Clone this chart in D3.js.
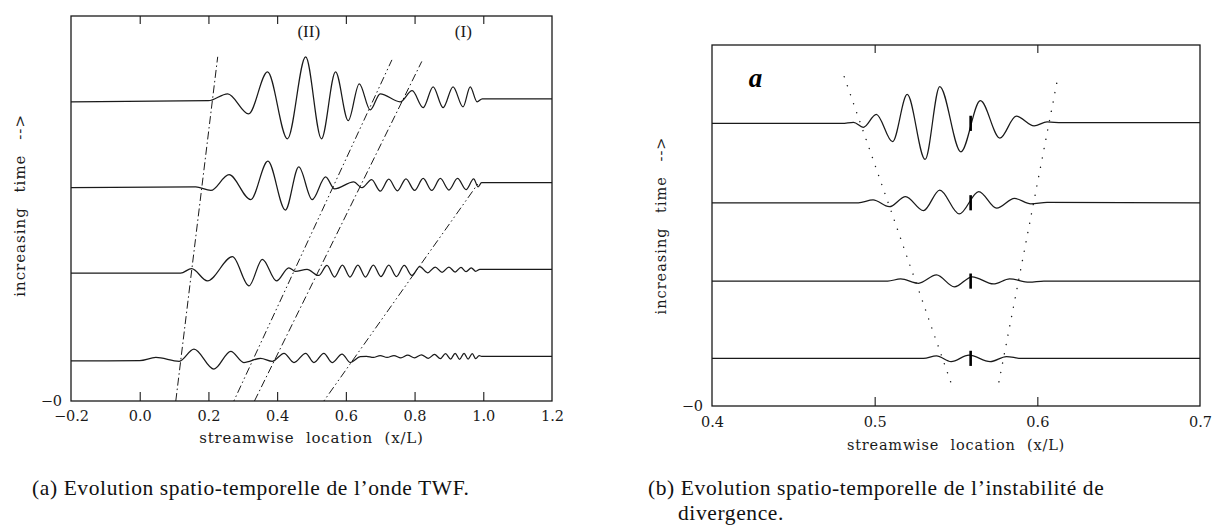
<!DOCTYPE html>
<html><head><meta charset="utf-8">
<script src="https://cdn.jsdelivr.net/npm/d3@7"></script>
<style>
html,body{margin:0;padding:0;background:#fff;}
svg{display:block;}
</style></head>
<body><svg id="chart" width="1215" height="532"></svg>
<script>
// ---------- Panel (a): wave packets, x = streamwise location, y = time (0 bottom .. 1 top)
const xTicksA = [-0.2, 0.0, 0.2, 0.4, 0.6, 0.8, 1.0, 1.2];
const traceA1 = [[-0.2,0.777],[0.20,0.780],[0.256,0.798],[0.317,0.746],[0.372,0.855],[0.430,0.681],[0.483,0.894],[0.529,0.681],[0.570,0.855],[0.607,0.728],[0.639,0.824],[0.671,0.756],[0.700,0.798],[0.758,0.777],[0.793,0.806],[0.825,0.762],[0.854,0.816],[0.883,0.762],[0.912,0.816],[0.941,0.764],[0.962,0.816],[0.982,0.777],[0.997,0.785],[1.2,0.785]];
const traceA2 = [[-0.2,0.554],[0.163,0.556],[0.207,0.547],[0.260,0.588],[0.323,0.523],[0.373,0.623],[0.424,0.496],[0.463,0.608],[0.502,0.523],[0.541,0.582],[0.567,0.551],[0.623,0.569],[0.647,0.554],[0.675,0.575],[0.700,0.545],[0.725,0.576],[0.750,0.546],[0.775,0.577],[0.800,0.547],[0.825,0.578],[0.850,0.547],[0.875,0.578],[0.900,0.548],[0.925,0.578],[0.950,0.549],[0.972,0.577],[0.985,0.556],[0.995,0.567],[1.2,0.567]];
const traceA3 = [[-0.2,0.332],[0.119,0.332],[0.151,0.344],[0.197,0.312],[0.270,0.375],[0.318,0.299],[0.357,0.368],[0.398,0.312],[0.434,0.346],[0.453,0.337],[0.487,0.342],[0.521,0.326],[0.545,0.352],[0.567,0.322],[0.590,0.353],[0.612,0.322],[0.635,0.353],[0.657,0.322],[0.680,0.353],[0.702,0.323],[0.725,0.353],[0.747,0.323],[0.770,0.352],[0.792,0.326],[0.815,0.349],[0.838,0.333],[0.860,0.348],[0.880,0.334],[0.900,0.348],[0.918,0.335],[0.935,0.347],[0.950,0.336],[0.965,0.346],[0.978,0.337],[0.990,0.342],[1.2,0.342]];
const traceA4 = [[-0.2,0.104],[0.0,0.105],[0.047,0.113],[0.115,0.103],[0.158,0.135],[0.216,0.083],[0.265,0.129],[0.303,0.100],[0.352,0.111],[0.386,0.103],[0.420,0.124],[0.449,0.100],[0.483,0.124],[0.507,0.100],[0.536,0.124],[0.560,0.100],[0.589,0.122],[0.613,0.100],[0.642,0.115],[0.660,0.116],[0.680,0.113],[0.700,0.118],[0.720,0.113],[0.740,0.118],[0.760,0.112],[0.780,0.119],[0.800,0.112],[0.820,0.120],[0.840,0.111],[0.858,0.121],[0.875,0.110],[0.890,0.123],[0.905,0.109],[0.918,0.124],[0.931,0.108],[0.944,0.124],[0.956,0.109],[0.968,0.123],[0.978,0.110],[0.988,0.118],[0.995,0.116],[1.2,0.116]];
const tracesA = [traceA1, traceA2, traceA3, traceA4];
// guide rays (x at bottom, y at bottom, x at top, y at top)
const raysA = [[0.105,0.0,0.227,0.894],[0.274,0.0,0.734,0.886],[0.334,0.0,0.821,0.882],[0.536,0.0,0.985,0.565]];
const modeLabelsA = [["(II)",0.492,0.945],["(I)",0.942,0.945]];

// ---------- Panel (b)
const xTicksB = [0.4, 0.5, 0.6, 0.7];
const traceB1 = [[0.4,0.783],[0.480,0.783],[0.487,0.786],[0.493,0.772],[0.501,0.808],[0.511,0.732],[0.520,0.863],[0.531,0.683],[0.540,0.885],[0.553,0.704],[0.565,0.846],[0.577,0.742],[0.587,0.803],[0.598,0.776],[0.606,0.787],[0.615,0.785],[0.7,0.785]];
const traceB2 = [[0.4,0.563],[0.490,0.563],[0.499,0.571],[0.509,0.552],[0.519,0.580],[0.530,0.541],[0.540,0.598],[0.552,0.532],[0.564,0.594],[0.575,0.548],[0.586,0.575],[0.596,0.560],[0.606,0.564],[0.7,0.563]];
const traceB3 = [[0.4,0.346],[0.508,0.346],[0.516,0.352],[0.527,0.340],[0.538,0.363],[0.549,0.330],[0.560,0.358],[0.573,0.338],[0.583,0.352],[0.595,0.343],[0.604,0.346],[0.7,0.346]];
const traceB4 = [[0.4,0.132],[0.530,0.132],[0.538,0.139],[0.547,0.123],[0.558,0.141],[0.571,0.123],[0.581,0.137],[0.590,0.132],[0.7,0.132]];
const tracesB = [traceB1, traceB2, traceB3, traceB4];
const markerX = 0.559;
const markerTimes = [0.783, 0.563, 0.346, 0.132];
const markerHalf = 0.021;
const raysB = [[0.5467,0.067,0.4795,0.935],[0.5764,0.067,0.6127,0.912]];

const svg = d3.select("#chart");
svg.append("rect").attr("width",1215).attr("height",532).attr("fill","#fff");

const ink = "#1a1a1a";
const tickFont = "DejaVu Serif, serif";

function panel(opts){
  const {x, y, ticks, fmt, topTicks, bottomTicks, pad} = opts;
  const g = svg.append("g");
  const [x0,x1] = x.range(), [y0,y1] = y.range();
  const ax = d3.axisBottom(x).tickValues(ticks).tickFormat(fmt).tickSizeInner(-9).tickSizeOuter(0).tickPadding(pad);
  const gb = g.append("g").attr("transform",`translate(0,${y0})`).call(ax);
  gb.selectAll(".tick line").filter(d=>!bottomTicks.includes(d)).remove();
  gb.select(".domain").remove();
  gb.selectAll(".tick line").attr("stroke",ink).attr("stroke-width",1.1);
  gb.selectAll("text").attr("font-family",tickFont).attr("font-size",14.5).attr("fill",ink);
  const at = d3.axisTop(x).tickValues(topTicks).tickFormat("").tickSizeInner(-8).tickSizeOuter(0);
  const gt = g.append("g").attr("transform",`translate(0,${y1})`).call(at);
  gt.select(".domain").remove();
  gt.selectAll(".tick line").attr("stroke",ink).attr("stroke-width",1.1);
  g.append("rect").attr("x",x0).attr("y",y1).attr("width",x1-x0).attr("height",y0-y1)
    .attr("fill","none").attr("stroke",ink).attr("stroke-width",1.3);
  g.append("text").attr("x",x0-9).attr("y",y0+5).attr("text-anchor","end")
    .attr("font-family",tickFont).attr("font-size",14.5).attr("fill",ink).text("\u22120");
  return g;
}

// ----- panel (a)
const xA = d3.scaleLinear().domain([-0.2,1.2]).range([71,552]);
const yA = d3.scaleLinear().domain([0,1]).range([401,16]);
const gA = panel({x:xA, y:yA, ticks:xTicksA, fmt:d3.format(".1f"), topTicks:[0,0.2,0.4,0.6,0.8,1.0], bottomTicks:[0,0.2,0.4,0.6,0.8,1.0], pad:10});
const lineA = d3.line().x(d=>xA(d[0])).y(d=>yA(d[1])).curve(d3.curveMonotoneX);
gA.selectAll("path.wave").data(tracesA).join("path").attr("class","wave")
  .attr("d",lineA).attr("fill","none").attr("stroke",ink).attr("stroke-width",1.25);
const dashes = ["8,3,1.5,3","1.5,3,1.5,3,8,3","8,3,1.5,3","1.5,3,1.5,3,8,3"];
gA.selectAll("line.ray").data(raysA).join("line").attr("class","ray")
  .attr("x1",d=>xA(d[0])).attr("y1",d=>yA(d[1])).attr("x2",d=>xA(d[2])).attr("y2",d=>yA(d[3]))
  .attr("stroke",ink).attr("stroke-width",1).attr("stroke-dasharray",(d,i)=>dashes[i]);
gA.selectAll("text.mode").data(modeLabelsA).join("text").attr("class","mode")
  .attr("x",d=>xA(d[1])).attr("y",d=>yA(d[2])).attr("text-anchor","middle")
  .attr("font-family","Liberation Serif, serif").attr("font-size",17).attr("fill",ink).text(d=>d[0]);
gA.append("text").attr("x",xA(0.5)).attr("y",443).attr("text-anchor","middle")
  .attr("font-family",tickFont).attr("font-size",15).attr("fill",ink).attr("letter-spacing",0.8).attr("word-spacing",6)
  .text("streamwise location (x/L)");
gA.append("text").attr("transform",`translate(25,${yA(0.508)}) rotate(-90)`).attr("text-anchor","middle")
  .attr("font-family",tickFont).attr("font-size",15).attr("fill",ink).attr("letter-spacing",1).attr("word-spacing",9)
  .text("increasing time -->");

// ----- panel (b)
const xB = d3.scaleLinear().domain([0.4,0.7]).range([712,1200]);
const yB = d3.scaleLinear().domain([0,1]).range([406,45]);
const gB = panel({x:xB, y:yB, ticks:xTicksB, fmt:d3.format(".1f"), topTicks:[0.5,0.6], bottomTicks:[0.5,0.6], pad:11});
const lineB = d3.line().x(d=>xB(d[0])).y(d=>yB(d[1])).curve(d3.curveMonotoneX);
gB.selectAll("path.wave").data(tracesB).join("path").attr("class","wave")
  .attr("d",lineB).attr("fill","none").attr("stroke",ink).attr("stroke-width",1.25);
gB.selectAll("line.mark").data(markerTimes).join("line").attr("class","mark")
  .attr("x1",xB(markerX)).attr("x2",xB(markerX)).attr("y1",d=>yB(d+markerHalf)).attr("y2",d=>yB(d-markerHalf))
  .attr("stroke","#000").attr("stroke-width",2.6);
gB.selectAll("line.ray").data(raysB).join("line").attr("class","ray")
  .attr("x1",d=>xB(d[0])).attr("y1",d=>yB(d[1])).attr("x2",d=>xB(d[2])).attr("y2",d=>yB(d[3]))
  .attr("stroke",ink).attr("stroke-width",1.4).attr("stroke-linecap","round").attr("stroke-dasharray","0.1,9.4");
gB.append("text").attr("x",xB(0.4267)).attr("y",yB(0.885)).attr("text-anchor","middle")
  .attr("font-family","Liberation Serif, serif").attr("font-style","italic").attr("font-weight","bold")
  .attr("font-size",27).attr("fill","#000").text("a");
gB.append("text").attr("x",xB(0.55)).attr("y",450).attr("text-anchor","middle")
  .attr("font-family",tickFont).attr("font-size",14.5).attr("fill",ink).attr("letter-spacing",0.8).attr("word-spacing",6)
  .text("streamwise location (x/L)");
gB.append("text").attr("transform",`translate(666,${yB(0.5)}) rotate(-90)`).attr("text-anchor","middle")
  .attr("font-family",tickFont).attr("font-size",14.5).attr("fill",ink).attr("letter-spacing",1).attr("word-spacing",9)
  .text("increasing time -->");

// ----- captions
const capFont = "Liberation Serif, serif";
function caption(x, y, s){
  svg.append("text").attr("x",x).attr("y",y).attr("font-family",capFont).attr("font-size",21.5)
    .attr("letter-spacing",0.6).attr("fill","#111").text(s);
}
caption(32, 495, "(a) Evolution spatio-temporelle de l\u2019onde TWF.");
caption(648, 495, "(b) Evolution spatio-temporelle de l\u2019instabilit\u00e9 de");
caption(678, 520, "divergence.");
</script></body></html>
